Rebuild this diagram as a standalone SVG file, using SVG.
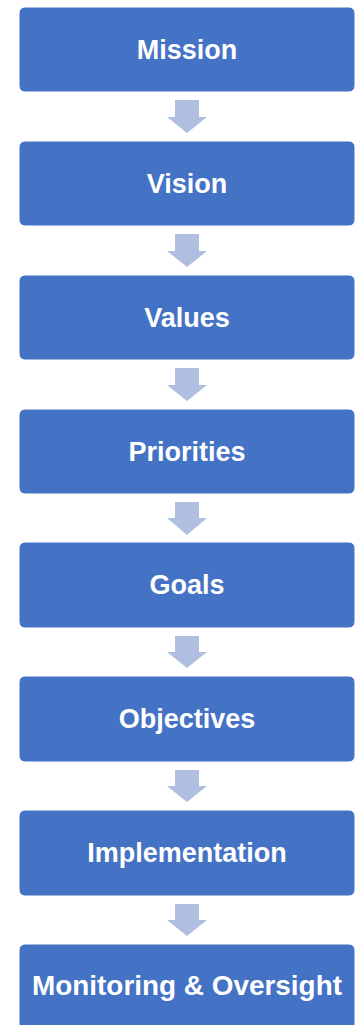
<svg xmlns="http://www.w3.org/2000/svg" width="357" height="1025" viewBox="0 0 357 1025">
<style>
.box{fill:#4472C4;stroke:#ffffff;stroke-width:1}
.lbl{font-family:"Liberation Sans",Arial,sans-serif;font-weight:bold;font-size:27px;fill:#ffffff;text-anchor:middle}
.arr{fill:#B0BEE0}
</style>
<rect width="357" height="1025" fill="#ffffff"/>
<g id="connectors">
<path class="arr" d="M175,100 H199 V117 H207 L187,133 L167,117 H175 Z"/>
<path class="arr" d="M175,234 H199 V251 H207 L187,267 L167,251 H175 Z"/>
<path class="arr" d="M175,368 H199 V385 H207 L187,401 L167,385 H175 Z"/>
<path class="arr" d="M175,502 H199 V518 H207 L187,535 L167,518 H175 Z"/>
<path class="arr" d="M175,636 H199 V652 H207 L187,668 L167,652 H175 Z"/>
<path class="arr" d="M175,770 H199 V786 H207 L187,802 L167,786 H175 Z"/>
<path class="arr" d="M175,904 H199 V920 H207 L187,936 L167,920 H175 Z"/>
</g>
<g id="mission"><rect class="box" x="19" y="7" width="336" height="85" rx="6"/><text class="lbl" x="187" y="59">Mission</text></g>
<g id="vision"><rect class="box" x="19" y="141" width="336" height="85" rx="6"/><text class="lbl" x="187" y="193">Vision</text></g>
<g id="values"><rect class="box" x="19" y="275" width="336" height="85" rx="6"/><text class="lbl" x="187" y="327">Values</text></g>
<g id="priorities"><rect class="box" x="19" y="409" width="336" height="85" rx="6"/><text class="lbl" x="187" y="461">Priorities</text></g>
<g id="goals"><rect class="box" x="19" y="542" width="336" height="86" rx="6"/><text class="lbl" x="187" y="594">Goals</text></g>
<g id="objectives"><rect class="box" x="19" y="676" width="336" height="86" rx="6"/><text class="lbl" x="187" y="728">Objectives</text></g>
<g id="implementation"><rect class="box" x="19" y="810" width="336" height="86" rx="6"/><text class="lbl" x="187" y="862">Implementation</text></g>
<g id="monitoring"><rect class="box" x="19" y="944" width="336" height="86" rx="6"/><text class="lbl" x="187" y="995" textLength="310" lengthAdjust="spacingAndGlyphs">Monitoring &amp; Oversight</text></g>
</svg>
